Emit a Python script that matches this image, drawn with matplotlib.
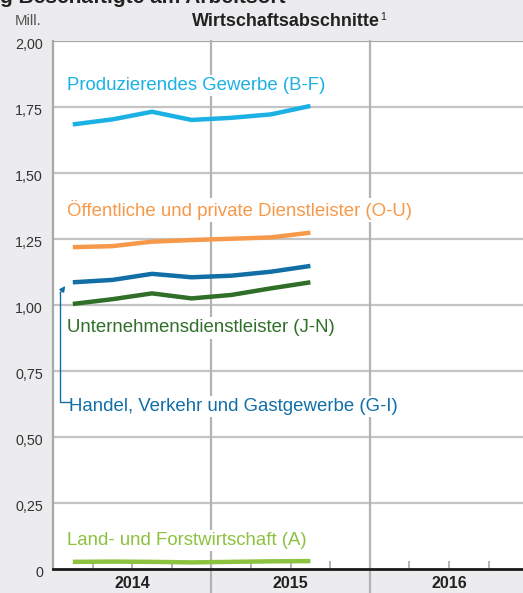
import matplotlib
matplotlib.use("Agg")
import matplotlib.pyplot as plt
from matplotlib.transforms import blended_transform_factory, offset_copy

plt.rcParams['font.family'] = ['Liberation Sans', 'DejaVu Sans']

# Quartale 2014 Q1 .. 2015 Q3 (Mitte des Quartals)
quartale = [0.5, 1.5, 2.5, 3.5, 4.5, 5.5, 6.5]

produzierendes = [1.684, 1.703, 1.732, 1.701, 1.709, 1.722, 1.754]
oeffentliche = [1.219, 1.223, 1.240, 1.246, 1.251, 1.256, 1.274]
handel = [1.086, 1.095, 1.118, 1.105, 1.111, 1.126, 1.148]
unternehmen = [1.004, 1.022, 1.044, 1.025, 1.038, 1.063, 1.086]
land = [0.027, 0.028, 0.027, 0.025, 0.027, 0.029, 0.030]

jahre = ['2014', '2015', '2016']
yticks = [0, 0.25, 0.5, 0.75, 1.0, 1.25, 1.5, 1.75, 2.0]
ytick_labels = ['0', '0,25', '0,50', '0,75', '1,00', '1,25', '1,50', '1,75', '2,00']

serien = [
    (produzierendes, '#1bb1e4', 'Produzierendes Gewerbe (B-F)', 1.83),
    (oeffentliche, '#f7994a', 'Öffentliche und private Dienstleister (O-U)', 1.36),
    (handel, '#116fa6', 'Handel, Verkehr und Gastgewerbe (G-I)', 0.617),
    (unternehmen, '#2f6f27', 'Unternehmensdienstleister (J-N)', 0.913),
    (land, '#8cc23f', 'Land- und Forstwirtschaft (A)', 0.107),
]

W, H = 523, 593
bg = '#ececee'
fig = plt.figure(figsize=(W / 100, H / 100), dpi=100, facecolor=bg)
ax = fig.add_axes([53 / W, (H - 569) / H, 1 - 53 / W, (569 - 41) / H])
ax.set_facecolor('white')

ax.set_xlim(0, (W - 53) / 39.6)
ax.set_ylim(0, 2.0)

for y in yticks[1:]:
    ax.axhline(y, color='#c4c4c4' if y < 2.0 else '#a8a8a8', lw=1.6, zorder=1)

# Jahrestrenner, durchgehend bis zum unteren Rand
trans = blended_transform_factory(ax.transData, fig.transFigure)
for xq in [4, 8]:
    ax.plot([xq, xq], [0, (H - 41) / H], transform=trans, color='#b3b3b3',
            lw=1.6, clip_on=False, zorder=1)

# Quartalsticks
for xq in [1, 2, 3, 5, 6, 7, 9, 10, 11]:
    ax.plot([xq, xq], [0, 0.027], color='#b3b3b3', lw=1.4, zorder=1)

for werte, farbe, name, ylab in serien:
    ax.plot(quartale, werte, color=farbe, lw=3.2, solid_capstyle='butt', zorder=3)
    xlab = 0.4 if name.startswith('Handel') else 0.36
    ax.text(xlab, ylab, name, color=farbe, fontsize=13.4, va='center', ha='left', zorder=2,
            bbox=dict(facecolor='white', edgecolor='none', pad=1.5))

# Pfeil zum Handel-Label
c_handel = '#116fa6'
ax.plot([0.42, 0.18, 0.18], [0.634, 0.634, 1.045], color=c_handel, lw=1, zorder=4)
ax.annotate('', xy=(0.31, 1.072), xytext=(0.18, 1.045),
            arrowprops=dict(arrowstyle='-|>', color=c_handel, lw=1,
                            mutation_scale=8, shrinkA=0, shrinkB=0))

ax.set_yticks([])
ax.set_xticks([])
lab_trans = offset_copy(blended_transform_factory(fig.transFigure, ax.transData),
                        fig=fig, x=0, y=-4, units='dots')
for y, t in zip(yticks, ytick_labels):
    ax.text(43 / W, y, t, transform=lab_trans, fontsize=10.3, color='#333333',
            ha='right', va='center')

for s in ['top', 'right']:
    ax.spines[s].set_visible(False)
ax.spines['left'].set_color('#a8a8a8')
ax.spines['left'].set_linewidth(1.6)
ax.spines['bottom'].set_color('#1a1a1a')
ax.spines['bottom'].set_linewidth(2)
ax.spines['bottom'].set_zorder(5)

for i, j in enumerate(jahre):
    ax.text(2 + 4 * i, (H - 583) / H, j, transform=trans, fontsize=11.5,
            fontweight='bold', ha='center', va='center', color='#222222')

fig.text(0, 1 - 3 / H, 'g Beschäftigte am Arbeitsort', fontsize=15, fontweight='bold',
         ha='left', va='baseline', color='#222222')
fig.text(286 / W, 1 - 26.5 / H, 'Wirtschaftsabschnitte', fontsize=13, fontweight='bold',
         ha='center', va='baseline', color='#222222')
fig.text(380 / W, 1 - 20 / H, '1', fontsize=7.5, ha='left', va='baseline', color='#222222')
fig.text(41 / W, 1 - 25 / H, 'Mill.', fontsize=10.8, ha='right', va='baseline', color='#555555')

fig.savefig('out.png', dpi=100, facecolor=bg)
